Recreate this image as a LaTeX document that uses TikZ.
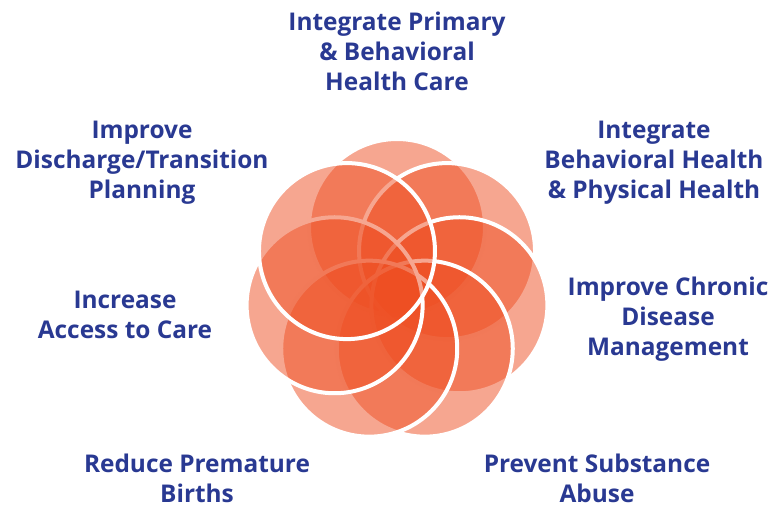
\documentclass[tikz,border=0pt]{standalone}
\usepackage{fontspec}
\usetikzlibrary{calc}
\setmainfont{Open Sans}
\definecolor{petal}{RGB}{238,78,34}
\definecolor{labelblue}{RGB}{41,57,146}
\tikzset{
  petalfill/.style={fill=petal, fill opacity=0.5},
  petalrim/.style={draw=white, line width=4pt},
  % base anchor sits on the last line of a label
  goal/.style={anchor=base, align=center, inner sep=0pt, text=labelblue,
    font=\fontsize{24.4}{30}\selectfont\bfseries},
}
\begin{document}
\begin{tikzpicture}[x=1pt, y=-1pt]
  \useasboundingbox (0,0) rectangle (776,508);
  \coordinate (hub) at (397,291);
  % seven petals, laid down clockwise from the top one
  \foreach \i in {0,...,6} {
    \pgfmathsetmacro{\a}{90-\i*360/7}
    \coordinate (p\i) at ($(hub)+({64*cos(\a)},{-64*sin(\a)})$);
    \fill[petalfill] (p\i) circle (88);
    \draw[petalrim] (p\i) circle (88);
  }
  % goal labels
  \node[goal] (primary) at (397,91) {Integrate Primary\\\& Behavioral\\Health Care};
  \node[goal] (physical) at (654,198) {Integrate\\Behavioral Health\\\& Physical Health};
  \node[goal] (chronic) at (668,355) {Improve Chronic\\Disease\\Management};
  \node[goal] (substance) at (597,502) {Prevent Substance\\Abuse};
  \node[goal] (births) at (197,502) {Reduce Premature\\Births};
  \node[goal] (access) at (125,338) {Increase\\Access to Care};
  \node[goal] (discharge) at (142,198) {Improve\\Discharge/Transition\\Planning};
\end{tikzpicture}
\end{document}
